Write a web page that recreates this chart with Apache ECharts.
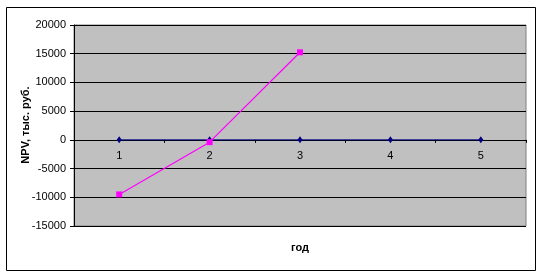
<!DOCTYPE html>
<html>
<head>
<meta charset="utf-8">
<script src="https://cdn.jsdelivr.net/npm/echarts@6/dist/echarts.min.js"></script>
<style>
html,body{margin:0;padding:0;background:#fff;}
#c{width:538px;height:273px;}
</style>
</head>
<body>
<div id="c"></div>
<script>
var categories = ['1', '2', '3', '4', '5'];
var seriesZero = [0, 0, 0, 0, 0];
var seriesNPV = [-9500, -400, 15250];
var yMin = -15000, yMax = 20000, yStep = 5000;
var yTitle = 'NPV, тыс. руб.';
var xTitle = 'год';

var FONT = 'Arial, "Liberation Sans", sans-serif';
var chart = echarts.init(document.getElementById('c'), null, {renderer: 'canvas'});
chart.setOption({
  animation: false,
  backgroundColor: '#ffffff',
  grid: {
    left: 74, right: 12, top: 25, bottom: 47,
    show: true, backgroundColor: '#C0C0C0', borderColor: '#808080', borderWidth: 1
  },
  xAxis: {
    type: 'category',
    data: categories,
    boundaryGap: true,
    axisLine: {show: true, onZero: true, onZeroAxisIndex: 0, lineStyle: {color: '#000', width: 1}},
    axisTick: {show: true, inside: false, length: 3, lineStyle: {color: '#000'}},
    axisLabel: {show: false},
    splitLine: {show: false}
  },
  yAxis: {
    type: 'value',
    min: yMin, max: yMax, interval: yStep,
    axisLine: {show: true, lineStyle: {color: '#000', width: 1}},
    axisTick: {show: true, inside: false, length: 4, lineStyle: {color: '#000'}},
    axisLabel: {color: '#000', fontFamily: FONT, fontSize: 11, margin: 8,
      formatter: function (v) { return String(v); }},
    splitLine: {show: true, lineStyle: {color: '#000', width: 1}}
  },
  series: [
    {
      type: 'line', data: seriesZero, z: 3,
      symbol: 'diamond', symbolSize: [5, 7],
      lineStyle: {color: '#000080', width: 1},
      itemStyle: {color: '#000080'},
      label: {show: true, position: 'bottom', distance: 7, formatter: '{b}',
        color: '#000', fontFamily: FONT, fontSize: 11}
    },
    {
      type: 'line', data: seriesNPV, z: 4,
      symbol: 'rect', symbolSize: 6,
      lineStyle: {color: '#FF00FF', width: 1.2},
      itemStyle: {color: '#FF00FF'}
    }
  ],
  graphic: [
    {
      type: 'rect', left: 4, top: 5, silent: true,
      shape: {x: 0.5, y: 0.5, width: 529, height: 263},
      style: {fill: 'none', stroke: '#000', lineWidth: 1}
    },
    {
      type: 'text', x: 26, y: 125, rotation: Math.PI / 2,
      style: {text: yTitle, font: 'bold 11px ' + FONT, fill: '#000', align: 'center', verticalAlign: 'middle'}
    },
    {
      type: 'text', x: 300, y: 248,
      style: {text: xTitle, font: 'bold 11px ' + FONT, fill: '#000', align: 'center', verticalAlign: 'middle'}
    }
  ]
});
</script>
</body>
</html>
